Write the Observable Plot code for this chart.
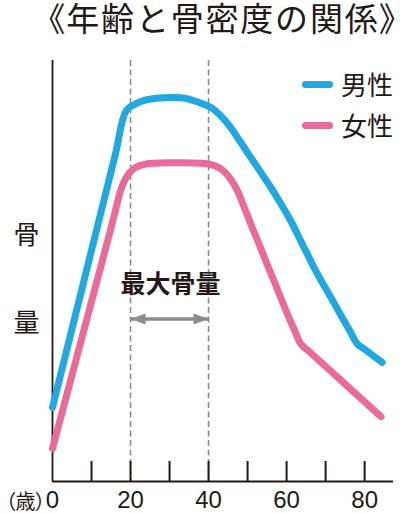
<!DOCTYPE html>
<html><head><meta charset="utf-8">
<script src="https://cdn.jsdelivr.net/npm/d3@7"></script>
<script src="https://cdn.jsdelivr.net/npm/@observablehq/plot@0.6"></script>
<style>
body{margin:0;background:#fff;font-family:"Noto Sans CJK JP",sans-serif;color:#231815;}
#wrap{position:relative;width:400px;height:513px;overflow:hidden;}
#title{height:40px;line-height:40px;font-family:"Liberation Sans","Noto Sans CJK JP",sans-serif;font-size:33px;letter-spacing:1.8px;white-space:nowrap;padding-left:48px;}
#title .p{font-feature-settings:"palt";}
.sw{position:absolute;left:302px;width:31px;height:7px;border-radius:3.5px;}
.lt{position:absolute;left:341px;font-size:26px;line-height:26px;white-space:nowrap;}
svg{display:block;}
svg text.palt{font-feature-settings:"palt";}
</style></head>
<body>
<div id="wrap">
  <div id="title"><span class="p">《</span>年齢と骨密度の関係<span class="p">》</span></div>
  <div id="chart"></div>
</div>
<script>
// ---- data ----
const seriesNames = ["男性", "女性"];
const seriesColors = ["#22a8e0", "#ea6a9a"];
const maleAge  = [0, 16, 18.9, 21.3, 23.8, 27.2, 30.8, 34.1, 37.9, 40.5, 43.1, 45.6, 48.2, 50.8, 55.9, 61.0, 64.4, 67.9, 71.3, 74.7, 76.5, 78.1, 80, 84.5];
const maleBone = [17.6, 77.3, 88.1, 89.7, 90.6, 91.1, 91.2, 91.0, 89.9, 88.9, 86.9, 84.2, 80.6, 77.0, 69.9, 62.0, 55.7, 49.3, 43.8, 38.2, 35.3, 32.7, 31.4, 28.3];
const femaleAge  = [0, 15, 17.9, 19.6, 21.3, 23.8, 30.8, 37.9, 40.5, 43.1, 45.6, 47.4, 49.1, 50.8, 52.9, 55.0, 56.7, 60.2, 62.2, 63.6, 66, 84.2];
const femaleBone = [7.8, 60.2, 70.3, 73.2, 74.6, 75.4, 75.7, 75.6, 75.3, 74.3, 71.9, 69.1, 65.2, 61.2, 56.5, 51.6, 47.8, 39.8, 35.6, 32.7, 30.7, 15.4];
const xTickLabels = [0, 20, 40, 60, 80];
const xMinorTicks = [10, 20, 30, 40, 50, 60, 70, 80];
const peakRange = [20, 40];
const peakLabel = "最大骨量";
const yLabelChars = ["骨", "量"];
const xUnitLabel = "（歳）";

const male = maleAge.map((a, i) => ({age: a, bone: maleBone[i]}));
const female = femaleAge.map((a, i) => ({age: a, bone: femaleBone[i]}));

const ink = "#231815";
const gray = "#8c8c8c";
const headRight = {draw(ctx){ ctx.moveTo(0,0); ctx.lineTo(-15,-5.5); ctx.lineTo(-15,5.5); ctx.closePath(); }};
const headLeft  = {draw(ctx){ ctx.moveTo(0,0); ctx.lineTo(15,-5.5); ctx.lineTo(15,5.5); ctx.closePath(); }};
const arrowY = 38.6;

const chart = Plot.plot({
  width: 400, height: 473,
  marginLeft: 52, marginRight: 7, marginTop: 20, marginBottom: 32,
  x: {domain: [0, 87.4], axis: null},
  y: {domain: [0, 100], axis: null},
  style: {fontFamily: '"Noto Sans CJK JP", sans-serif', color: ink, background: "#fff"},
  marks: [
    Plot.ruleX(peakRange, {stroke: gray, strokeWidth: 1.6, strokeDasharray: "6,3.5"}),
    Plot.ruleX(xMinorTicks, {y1: 0, y2: 4.75, stroke: ink, strokeWidth: 2}),
    Plot.ruleX([0], {stroke: ink, strokeWidth: 1.8}),
    Plot.ruleY([0], {stroke: ink, strokeWidth: 2}),
    Plot.line(male, {x: "age", y: "bone", stroke: seriesColors[0], strokeWidth: 7, curve: "catmull-rom", strokeLinecap: "round", strokeLinejoin: "round"}),
    Plot.line(female, {x: "age", y: "bone", stroke: seriesColors[1], strokeWidth: 7, curve: "catmull-rom", strokeLinecap: "round", strokeLinejoin: "round"}),
    Plot.link([peakRange], {x1: d => d[0], x2: d => d[1], y1: () => arrowY, y2: () => arrowY, stroke: gray, strokeWidth: 3.5}),
    Plot.dot([peakRange[0]], {x: d => d, y: () => arrowY, symbol: headLeft, fill: gray, stroke: "none"}),
    Plot.dot([peakRange[1]], {x: d => d, y: () => arrowY, symbol: headRight, fill: gray, stroke: "none"}),
    Plot.text([peakLabel], {x: () => d3.mean(peakRange), y: () => 46.6, text: d => d, dx: 1, fontSize: 25, fontWeight: "bold", fill: ink}),
    Plot.text(yLabelChars, {y: (d, i) => [58.4, 37.5][i], text: d => d, frameAnchor: "left", textAnchor: "middle", lineAnchor: "middle", dx: -26, fontSize: 26, fill: ink}),
    Plot.text(xTickLabels, {x: d => d, text: d => String(d), frameAnchor: "bottom", lineAnchor: "bottom", dy: 26.5, fontSize: 24, fontFamily: '"Liberation Sans", sans-serif', fill: ink}),
    Plot.text([xUnitLabel], {text: d => d, frameAnchor: "bottom-left", lineAnchor: "bottom", dx: -7, dy: 27, textAnchor: "end", fontSize: 20, fontFamily: '"Liberation Sans", "Noto Sans CJK JP", sans-serif', fill: ink})
  ]
});
// proportional width for the full-width parentheses of the unit label
d3.select(chart).selectAll("text").filter(function(){ return this.textContent === xUnitLabel; }).classed("palt", true);
document.getElementById("chart").appendChild(chart);

// legend
const wrap = document.getElementById("wrap");
const legTops = [84, 125];
seriesNames.forEach((name, i) => {
  const sw = document.createElement("div");
  sw.className = "sw";
  sw.style.top = (legTops[i] - 3.5) + "px";
  sw.style.background = seriesColors[i];
  wrap.appendChild(sw);
  const t = document.createElement("div");
  t.className = "lt";
  t.style.top = (legTops[i] - 13) + "px";
  t.textContent = name;
  wrap.appendChild(t);
});
</script>
</body></html>
